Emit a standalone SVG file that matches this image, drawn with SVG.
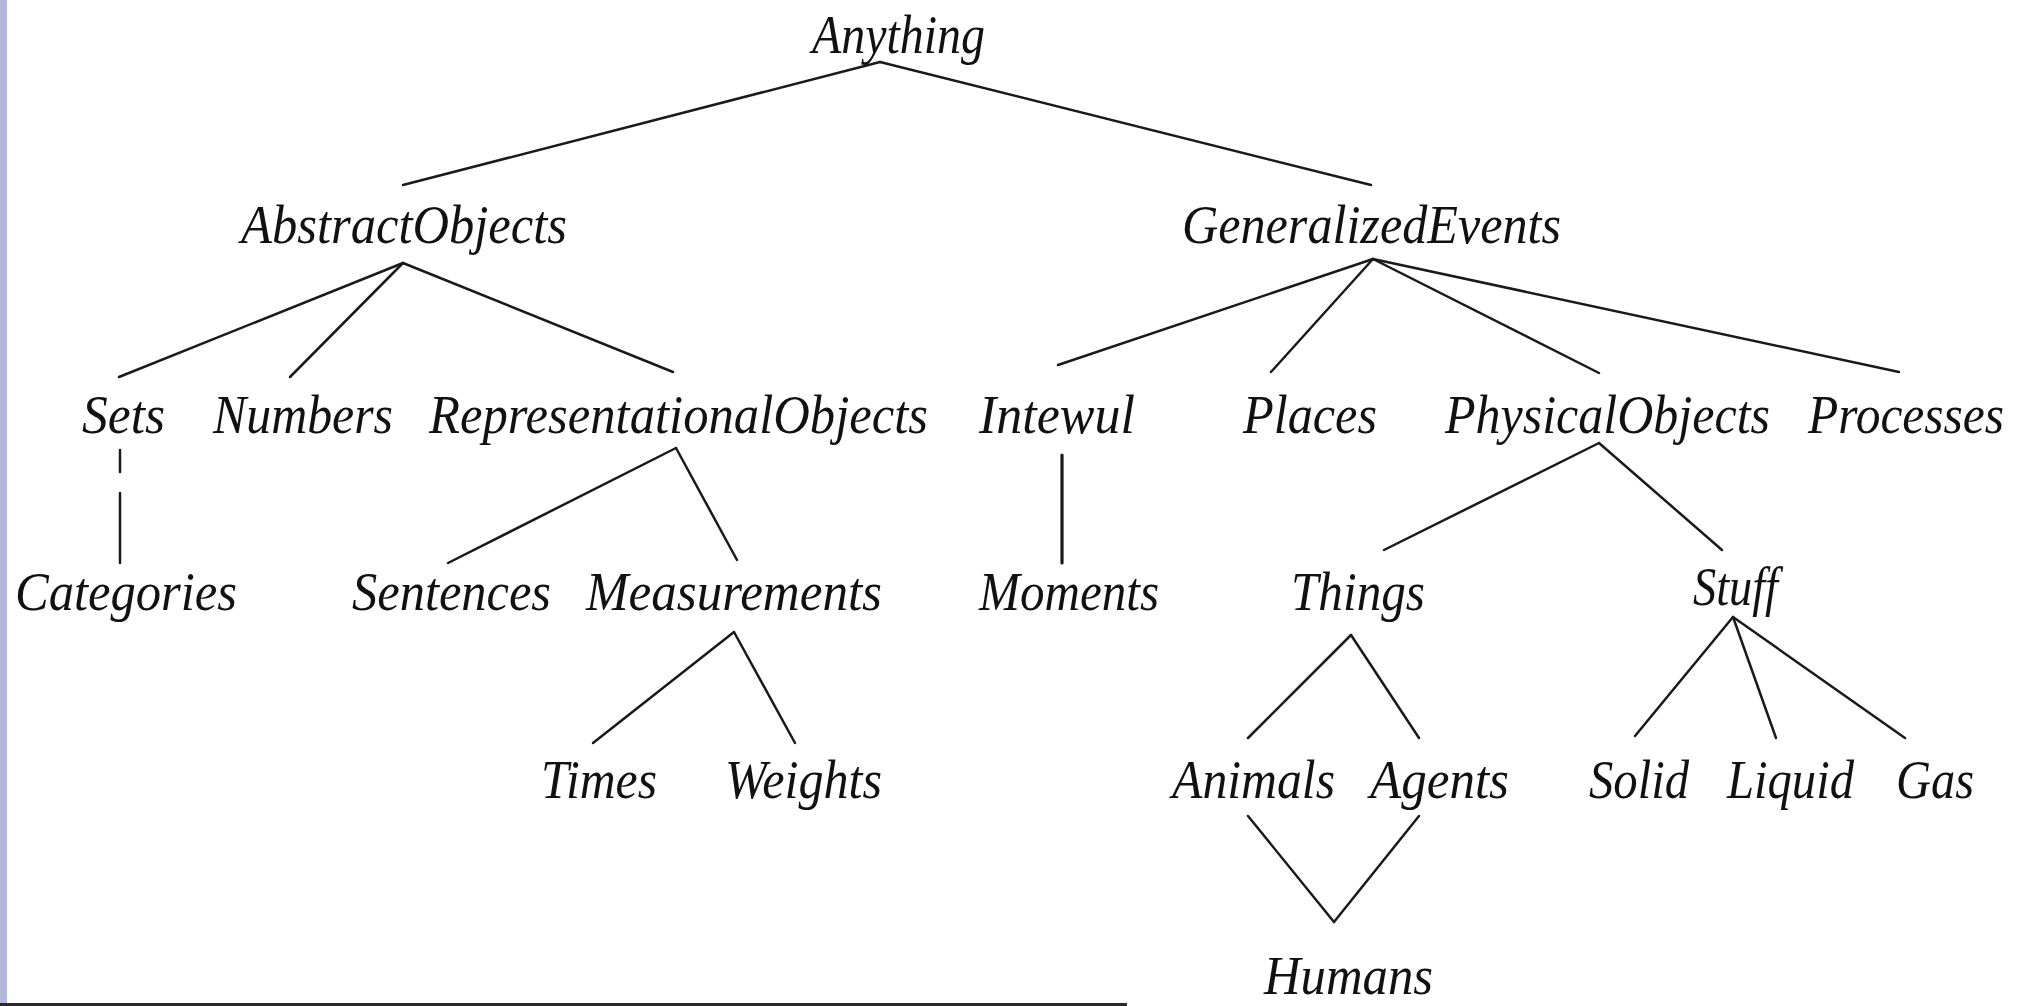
<svg xmlns="http://www.w3.org/2000/svg" width="2020" height="1006" viewBox="0 0 2020 1006">
<style>
text{font-family:"Liberation Serif","Times New Roman",serif;font-style:italic;font-size:55px;fill:#111}
.c line{stroke:#1a1a1a;stroke-width:2.5;stroke-linecap:round}
</style>
<rect x="0" y="0" width="2020" height="1006" fill="#ffffff"/>
<rect x="0" y="0" width="7" height="1006" fill="#b5b9d9"/>
<rect x="0" y="1003" width="1127" height="3" fill="#2a2a2a"/>
<g class="c" id="connectors">
<line x1="880" y1="62" x2="403" y2="185"/>
<line x1="880" y1="62" x2="1371" y2="185"/>
<line x1="403" y1="263" x2="119" y2="377"/>
<line x1="403" y1="263" x2="290" y2="377"/>
<line x1="403" y1="263" x2="673" y2="372"/>
<line x1="1373" y1="259" x2="1058" y2="365"/>
<line x1="1373" y1="259" x2="1271" y2="372"/>
<line x1="1373" y1="259" x2="1599" y2="373"/>
<line x1="1373" y1="259" x2="1899" y2="372"/>
<line x1="120" y1="450" x2="120" y2="472"/>
<line x1="120" y1="493" x2="120" y2="563"/>
<line x1="676" y1="448" x2="448" y2="563"/>
<line x1="676" y1="448" x2="737" y2="560"/>
<line x1="1062" y1="455" x2="1062" y2="563" style="stroke-width:3.2"/>
<line x1="1599" y1="443" x2="1384" y2="550"/>
<line x1="1599" y1="443" x2="1722" y2="550"/>
<line x1="734" y1="632" x2="593" y2="743"/>
<line x1="734" y1="632" x2="795" y2="743"/>
<line x1="1351" y1="635" x2="1248" y2="738"/>
<line x1="1351" y1="635" x2="1419" y2="738"/>
<line x1="1733" y1="617" x2="1635" y2="736"/>
<line x1="1733" y1="617" x2="1776" y2="738"/>
<line x1="1733" y1="617" x2="1905" y2="738"/>
<line x1="1248" y1="816" x2="1334" y2="922"/>
<line x1="1419" y1="816" x2="1334" y2="922"/>
</g>
<g id="anything"><text x="812" y="53" textLength="173" lengthAdjust="spacingAndGlyphs">Anything</text></g>
<g id="abstractobjects"><text x="241" y="243" textLength="326" lengthAdjust="spacingAndGlyphs">AbstractObjects</text></g>
<g id="generalizedevents"><text x="1182" y="243" textLength="379" lengthAdjust="spacingAndGlyphs">GeneralizedEvents</text></g>
<g id="sets"><text x="82" y="433" textLength="83" lengthAdjust="spacingAndGlyphs">Sets</text></g>
<g id="numbers"><text x="213" y="433" textLength="180" lengthAdjust="spacingAndGlyphs">Numbers</text></g>
<g id="representationalobjects"><text x="429" y="433" textLength="499" lengthAdjust="spacingAndGlyphs">RepresentationalObjects</text></g>
<g id="intewul"><text x="979" y="433" textLength="156" lengthAdjust="spacingAndGlyphs">Intewul</text></g>
<g id="places"><text x="1243" y="433" textLength="134" lengthAdjust="spacingAndGlyphs">Places</text></g>
<g id="physicalobjects"><text x="1445" y="433" textLength="325" lengthAdjust="spacingAndGlyphs">PhysicalObjects</text></g>
<g id="processes"><text transform="translate(1808,433) scale(0.9,1)" x="0" y="0">Processes</text></g>
<g id="categories"><text x="15" y="610" textLength="222" lengthAdjust="spacingAndGlyphs">Categories</text></g>
<g id="sentences"><text x="352" y="610" textLength="199" lengthAdjust="spacingAndGlyphs">Sentences</text></g>
<g id="measurements"><text x="586" y="610" textLength="296" lengthAdjust="spacingAndGlyphs">Measurements</text></g>
<g id="moments"><text x="979" y="610" textLength="180" lengthAdjust="spacingAndGlyphs">Moments</text></g>
<g id="things"><text x="1291" y="610" textLength="134" lengthAdjust="spacingAndGlyphs">Things</text></g>
<g id="stuff"><text x="1693" y="605" textLength="85" lengthAdjust="spacingAndGlyphs">Stuff</text></g>
<g id="times"><text x="541" y="798" textLength="116" lengthAdjust="spacingAndGlyphs">Times</text></g>
<g id="weights"><text x="725" y="798" textLength="157" lengthAdjust="spacingAndGlyphs">Weights</text></g>
<g id="animals"><text x="1172" y="798" textLength="163" lengthAdjust="spacingAndGlyphs">Animals</text></g>
<g id="agents"><text x="1370" y="798" textLength="139" lengthAdjust="spacingAndGlyphs">Agents</text></g>
<g id="solid"><text x="1589" y="798" textLength="100" lengthAdjust="spacingAndGlyphs">Solid</text></g>
<g id="liquid"><text x="1727" y="798" textLength="127" lengthAdjust="spacingAndGlyphs">Liquid</text></g>
<g id="gas"><text x="1896" y="798" textLength="78" lengthAdjust="spacingAndGlyphs">Gas</text></g>
<g id="humans"><text x="1264" y="994" textLength="169" lengthAdjust="spacingAndGlyphs">Humans</text></g>
</svg>
